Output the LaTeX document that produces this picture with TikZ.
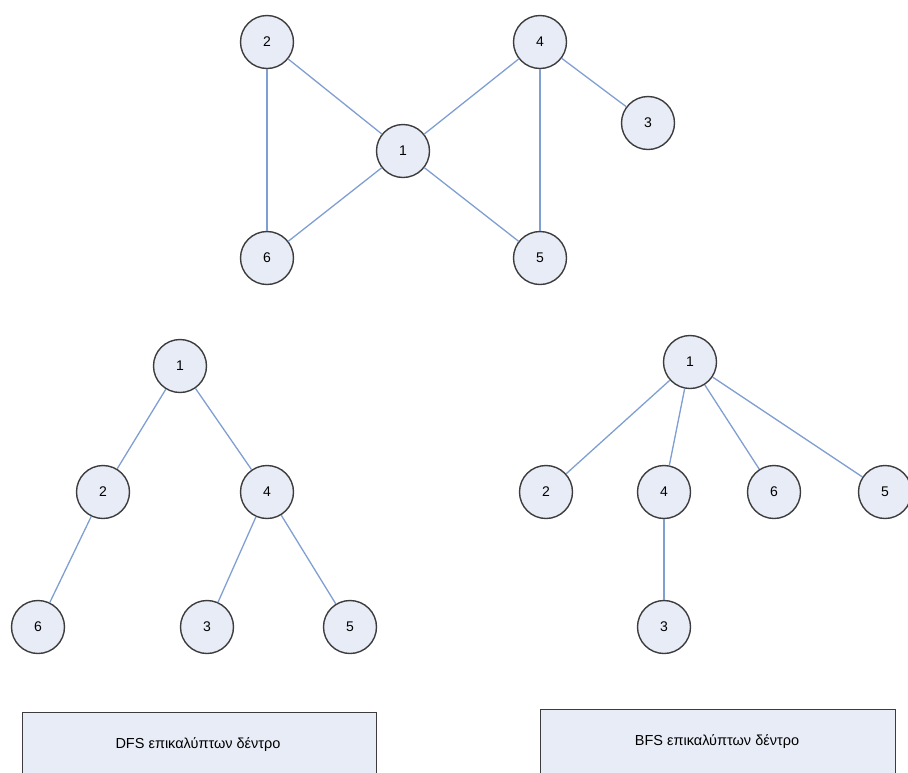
\documentclass[tikz,border=0pt]{standalone}
\usepackage{fontspec}
\setmainfont{Liberation Sans}
\definecolor{nodefill}{HTML}{E8ECF6}
\definecolor{nodeline}{HTML}{3C3C3C}
\definecolor{edgeblue}{HTML}{7F9FD2}
\begin{document}
\begin{tikzpicture}[x=1pt,y=-1pt,
  vtx/.style={circle,draw=nodeline,fill=nodefill,line width=1.4pt,minimum size=53pt,inner sep=0pt,font=\fontsize{14}{16}\selectfont},
  edge/.style={draw=edgeblue,line width=1.3pt},
  captionbox/.style={draw=nodeline,fill=nodefill,line width=1.1pt,anchor=north west,inner sep=0pt},
  captiontext/.style={font=\fontsize{14.5}{17}\selectfont}]
\useasboundingbox (0,0) rectangle (908,772);
% the graph
\node[vtx] (g2) at (267,42) {2};
\node[vtx] (g4) at (540,42) {4};
\node[vtx] (g3) at (648,123) {3};
\node[vtx] (g1) at (403,151) {1};
\node[vtx] (g6) at (267,258) {6};
\node[vtx] (g5) at (540,258) {5};
\draw[edge] (g2) -- (g1);
\draw[edge] (g2) -- (g6);
\draw[edge] (g1) -- (g6);
\draw[edge] (g1) -- (g4);
\draw[edge] (g1) -- (g5);
\draw[edge] (g4) -- (g5);
\draw[edge] (g4) -- (g3);
% DFS tree
\node[vtx] (d1) at (180,366) {1};
\node[vtx] (d2) at (103,492) {2};
\node[vtx] (d4) at (267,492) {4};
\node[vtx] (d6) at (38,627) {6};
\node[vtx] (d3) at (207,627) {3};
\node[vtx] (d5) at (350,627) {5};
\draw[edge] (d1) -- (d2);
\draw[edge] (d1) -- (d4);
\draw[edge] (d2) -- (d6);
\draw[edge] (d4) -- (d3);
\draw[edge] (d4) -- (d5);
% BFS tree
\node[vtx] (b1) at (690,362) {1};
\node[vtx] (b2) at (546,492) {2};
\node[vtx] (b4) at (664,492) {4};
\node[vtx] (b6) at (774,492) {6};
\node[vtx] (b5) at (885,492) {5};
\node[vtx] (b3) at (664,627) {3};
\draw[edge] (b1) -- (b2);
\draw[edge] (b1) -- (b4);
\draw[edge] (b1) -- (b6);
\draw[edge] (b1) -- (b5);
\draw[edge] (b4) -- (b3);
% captions
\node[captionbox,minimum width=354pt,minimum height=70pt] (dcap) at (22,712) {};
\node[captiontext] (dtxt) at (198,745) {DFS επικαλύπτων δέντρο};
\node[captionbox,minimum width=355pt,minimum height=70pt] (bcap) at (540,709) {};
\node[captiontext] (btxt) at (717,742) {BFS επικαλύπτων δέντρο};
\end{tikzpicture}
\end{document}
